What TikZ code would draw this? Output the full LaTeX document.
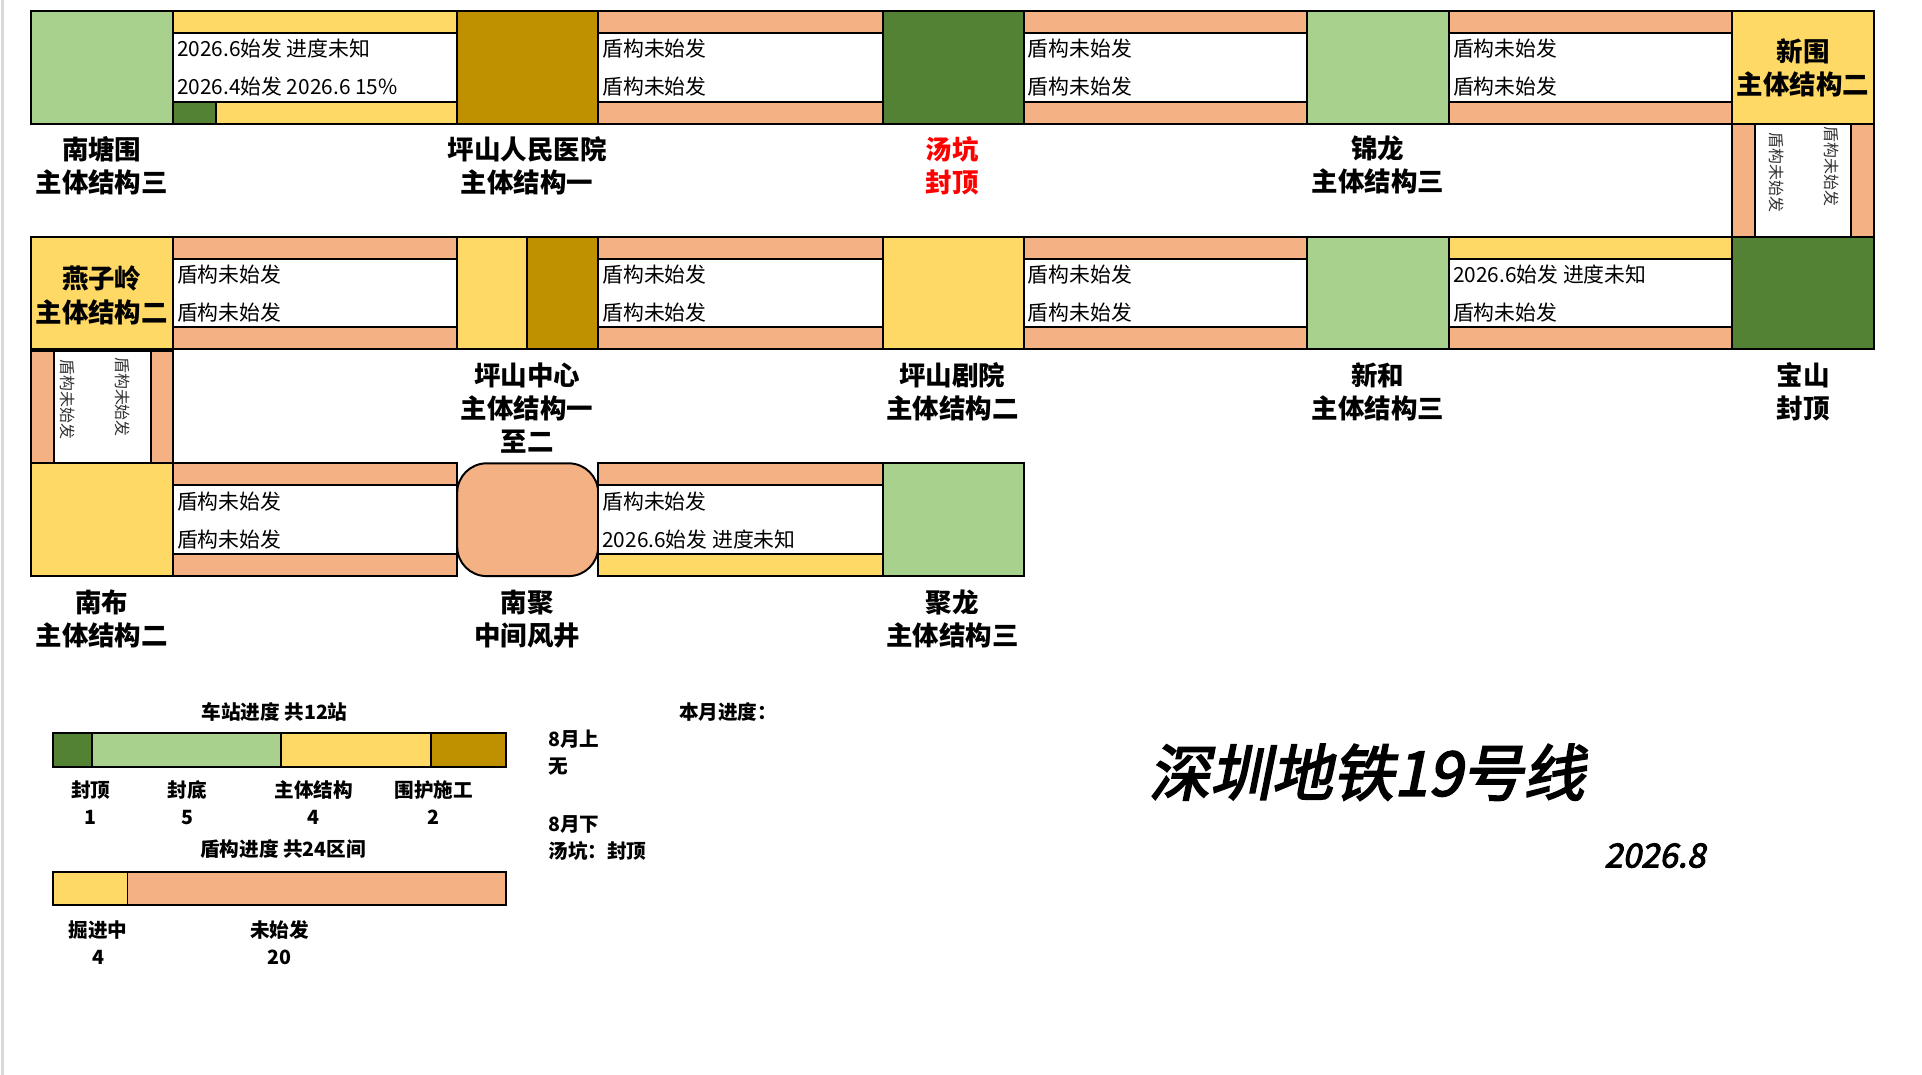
\documentclass[tikz,border=0pt]{standalone}
\usepackage{fontspec}
\setmainfont{Noto Sans CJK SC}
\newfontfamily\titlefont{Noto Sans CJK SC}[FakeSlant=0.2,FakeBold=3]
\usetikzlibrary{positioning}
\definecolor{ltgreen}{HTML}{A9D18E}
\definecolor{dkgreen}{HTML}{548235}
\definecolor{yel}{HTML}{FFD966}
\definecolor{gold}{HTML}{BF9000}
\definecolor{salmon}{HTML}{F4B183}
\begin{document}
\begin{tikzpicture}[x=0.5pt, y=-0.5pt,
    box/.style={draw, line width=0.8pt},
    ttext/.style={anchor=west, font=\fontsize{8.5}{9}\selectfont, inner sep=0pt},
    vtext/.style={rotate=-90, anchor=west, font=\fontsize{6.5}{7}\selectfont, text=black!80, inner sep=0pt},
    label/.style={align=center, font=\bfseries\fontsize{10.8}{13.5}\selectfont, anchor=north},
    leg/.style={align=center, font=\bfseries\fontsize{8}{11}\selectfont}
]
    \useasboundingbox (0,0) rectangle (1568,877);
    \draw[black!15, line width=1pt] (2,0) -- (2,877);

    % Stationen
    \foreach \xa/\xb/\ya/\col/\nm in {25/141/9/ltgreen/ntw, 373/488/9/gold/psy, 720/835/9/dkgreen/tk, 1066/1182/9/ltgreen/jl, 1413/1529/9/yel/xw,
        25/141/193/yel/yzl, 373/430/193/yel/psz, 430/488/193/gold/psz2, 720/835/193/yel/psj, 1066/1182/193/ltgreen/xh, 1413/1529/193/dkgreen/bs,
        25/141/378/yel/nb, 720/835/378/ltgreen/jlg}
        \draw[box, fill=\col] (\xa,\ya) rectangle (\xb,\ya+92);
    \draw[box, fill=salmon, rounded corners=12pt] (373,378) rectangle (488,470);

    % Tunnel
    \foreach \xa/\xb/\ya/\ct/\cb/\ta/\tb in {
        141/373/9/yel/yel/2026.6始发 进度未知/2026.4始发 2026.6 15\%,
        488/720/9/salmon/salmon/盾构未始发/盾构未始发,
        835/1066/9/salmon/salmon/盾构未始发/盾构未始发,
        1182/1413/9/salmon/salmon/盾构未始发/盾构未始发,
        141/373/193/salmon/salmon/盾构未始发/盾构未始发,
        488/720/193/salmon/salmon/盾构未始发/盾构未始发,
        835/1066/193/salmon/salmon/盾构未始发/盾构未始发,
        1182/1413/193/yel/salmon/2026.6始发 进度未知/盾构未始发,
        141/373/378/salmon/salmon/盾构未始发/盾构未始发,
        488/720/378/salmon/yel/盾构未始发/2026.6始发 进度未知}{
        \draw[box, fill=\ct] (\xa,\ya) rectangle (\xb,\ya+18);
        \draw[box, fill=white] (\xa,\ya+18) rectangle (\xb,\ya+74);
        \draw[box, fill=\cb] (\xa,\ya+74) rectangle (\xb,\ya+92);
        \node[ttext] at (\xa+3,\ya+31) {\ta};
        \node[ttext] at (\xa+3,\ya+62) {\tb};
    }
    \draw[box, fill=dkgreen] (141,83) rectangle (176,101);

    % Verbindungen senkrecht
    \draw[box, fill=salmon] (1413,101) rectangle (1432,193);
    \draw[box, fill=white] (1432,101) rectangle (1510,193);
    \draw[box, fill=salmon] (1510,101) rectangle (1529,193);
    \node[vtext] (v1) at (1449,108) {盾构未始发};
    \node[vtext] (v2) at (1494,103) {盾构未始发};
    \draw[box, fill=salmon] (25,286) rectangle (44,378);
    \draw[box, fill=white] (44,286) rectangle (123,378);
    \draw[box, fill=salmon] (123,286) rectangle (141,378);
    \node[vtext] (v3) at (55,293) {盾构未始发};
    \node[vtext] (v4) at (100,291) {盾构未始发};

    % Stationsnamen
    \node[label] (l1) at (83,104) {南塘围\\主体结构三};
    \node[label] (l2) at (430,104) {坪山人民医院\\主体结构一};
    \node[label, text=red] (l3) at (777,104) {汤坑\\封顶};
    \node[label] (l4) at (1124,104) {锦龙\\主体结构三};
    \node[label, anchor=center] (l5) at (1471,55) {新围\\主体结构二};
    \node[label, anchor=center] (l6) at (83,241) {燕子岭\\主体结构二};
    \node[label] (l7) at (430,289) {坪山中心\\主体结构一\\至二};
    \node[label] (l8) at (777,289) {坪山剧院\\主体结构二};
    \node[label] (l9) at (1124,289) {新和\\主体结构三};
    \node[label] (l10) at (1471,289) {宝山\\封顶};
    \node[label] (l11) at (83,474) {南布\\主体结构二};
    \node[label] (l12) at (430,474) {南聚\\中间风井};
    \node[label] (l13) at (777,474) {聚龙\\主体结构三};

    % Legende
    \node[leg] (sh) at (224,581) {车站进度 共12站};
    \draw[box, fill=dkgreen] (43,598) rectangle (75,626);
    \draw[box, fill=ltgreen] (75,598) rectangle (229,626);
    \draw[box, fill=yel] (229,598) rectangle (352,626);
    \draw[box, fill=gold] (352,598) rectangle (413,626);
    \node[leg, anchor=north] at (74,630) {封顶\\1};
    \node[leg, anchor=north] at (153,630) {封底\\5};
    \node[leg, anchor=north] at (256,630) {主体结构\\4};
    \node[leg, anchor=north] at (354,630) {围护施工\\2};
    \node[leg] (dh) at (231,693) {盾构进度 共24区间};
    \draw[box, fill=yel] (43,711) rectangle (104,738);
    \draw[box, fill=salmon] (104,711) rectangle (413,738);
    \node[leg, anchor=north] at (80,744) {掘进中\\4};
    \node[leg, anchor=north] at (228,744) {未始发\\20};

    \node[leg] (month) at (594,581) {本月进度：};
    \node[leg, align=left, anchor=north west, inner sep=0pt] (m1) at (447,595) {8月上\\无};
    \node[leg, align=left, anchor=north west, inner sep=0pt] (m2) at (447,665) {8月下\\汤坑：封顶};

    \node[font=\titlefont\fontsize{25}{28}\selectfont] (title) at (1115,630) {深圳地铁19号线};
    \node[font=\titlefont\fontsize{13.5}{15}\selectfont] (date) at (1350,698) {2026.8};
\end{tikzpicture}
\end{document}
